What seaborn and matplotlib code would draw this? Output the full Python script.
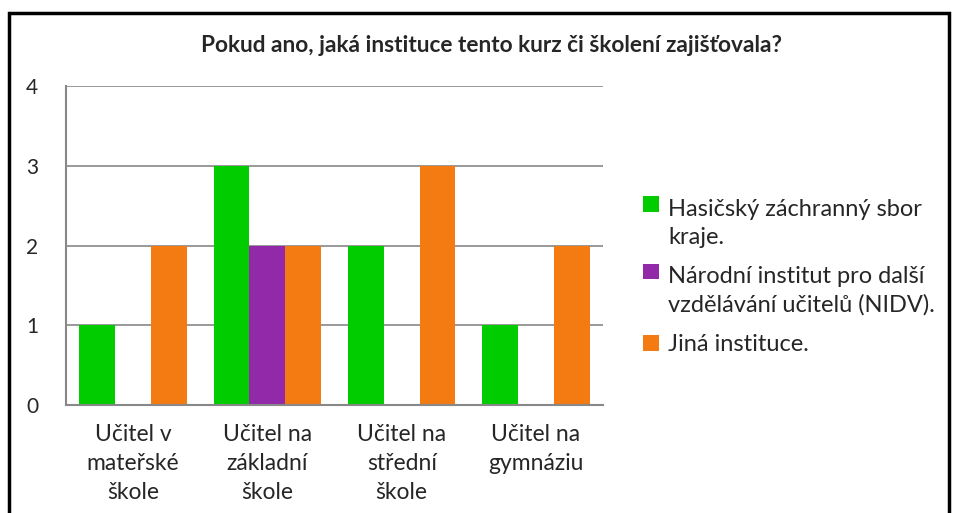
import matplotlib
matplotlib.use("Agg")
import matplotlib.pyplot as plt
import seaborn as sns
import pandas as pd
from matplotlib.patches import Rectangle
from matplotlib.legend_handler import HandlerPatch

categories = ["Učitel v\nmateřské\nškole", "Učitel na\nzákladní\nškole",
              "Učitel na\nstřední\nškole", "Učitel na\ngymnáziu"]
series_names = ["Hasičský záchranný sbor\nkraje.",
                "Národní institut pro další\nvzdělávání učitelů (NIDV).",
                "Jiná instituce."]
hasici = [1, 3, 2, 1]
nidv = [0, 2, 0, 0]
jina = [2, 2, 3, 2]
colors = ["#00CC00", "#9229A9", "#F47A12"]
title = "Pokud ano, jaká instituce tento kurz či školení zajišťovala?"

rows = []
for s, vals in zip(series_names, [hasici, nidv, jina]):
    for c, v in zip(categories, vals):
        rows.append({"cat": c, "series": s, "value": v})
df = pd.DataFrame(rows)

sns.set_theme(style="white")
plt.rcParams["font.family"] = ["Lato", "DejaVu Sans"]

fig = plt.figure(figsize=(9.57, 5.13), dpi=100)
W, H = 957, 513
ax = fig.add_axes([66 / W, 1 - 405 / H, (603 - 66) / W, (405 - 86) / H])

sns.barplot(data=df, x="cat", y="value", hue="series", palette=colors,
            width=0.8, saturation=1, ax=ax, legend=True, linewidth=0,
            edgecolor="none")

ax.set_ylim(0, 4)
ax.set_xlim(-0.5, 3.5)
ax.set_yticks([0, 1, 2, 3, 4])
ax.yaxis.grid(True, color="#888888", linewidth=1.2)
ax.set_axisbelow(True)
for sp in ["top", "right"]:
    ax.spines[sp].set_visible(False)
for sp in ["left", "bottom"]:
    ax.spines[sp].set_color("#888888")
    ax.spines[sp].set_linewidth(1.5)
ax.set_xlabel("")
ax.set_ylabel("")
ax.tick_params(axis="y", labelsize=15, pad=20, length=0)
ax.tick_params(axis="x", labelsize=16.5, pad=14, length=0)
for lbl in ax.get_xticklabels():
    lbl.set_linespacing(1.45)

LEG_FS = 17
LEG_LS = 1.4


class TopHandler(HandlerPatch):
    def create_artists(self, legend, orig_handle, xdescent, ydescent,
                       width, height, fontsize, trans):
        n = orig_handle.get_label().count("\n")
        shift = n * fontsize * 1.2 * LEG_LS / 2
        p = Rectangle((-xdescent, -ydescent + shift), width, height,
                      facecolor=orig_handle.get_facecolor(),
                      edgecolor="none", transform=trans)
        return [p]


handles, labels = ax.get_legend_handles_labels()
for h, l in zip(handles, labels):
    h.set_label(l)
leg = ax.legend(handles, labels, loc="upper left",
                bbox_to_anchor=(622 / W, 1 - 178 / H),
                bbox_transform=fig.transFigure, frameon=False, fontsize=LEG_FS,
                handlelength=0.65, handleheight=0.65, handletextpad=0.4,
                labelspacing=0.78,
                handler_map={type(handles[0]): TopHandler()})
for t in leg.get_texts():
    t.set_linespacing(LEG_LS)

fig.text(491 / W, 1 - 45 / H, title, ha="center", va="center",
         fontsize=16.3, fontweight="bold")

fig.patches.append(Rectangle((9 / W, -0.05), (949 - 9) / W, 1.05 - 13 / H,
                             transform=fig.transFigure, fill=False,
                             edgecolor="black", linewidth=2.5))

fig.savefig("out.png", dpi=100)
